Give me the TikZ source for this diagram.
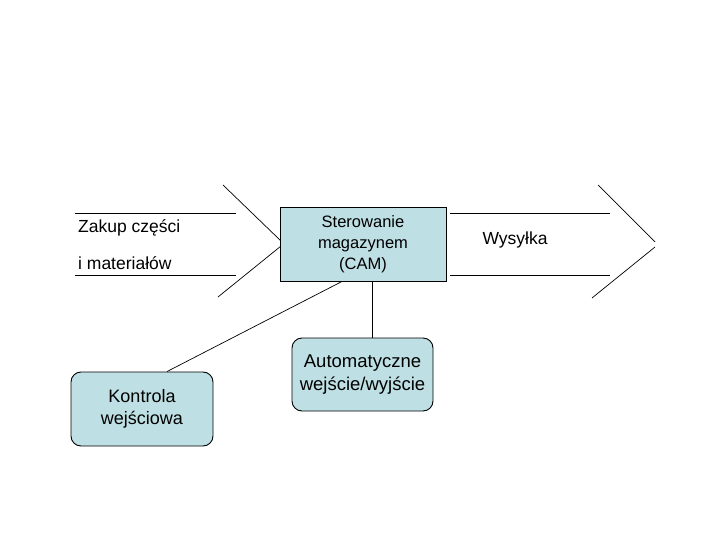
\documentclass[tikz,border=0pt]{standalone}
\usepackage{fontspec}
\setmainfont{Liberation Sans}
\definecolor{boxfill}{HTML}{BEDFE3}
\tikzset{
  procbox/.style={draw=black, line width=0.9pt, fill=boxfill, align=center, inner sep=0pt, font=\fontsize{16.5}{21}\selectfont},
  roundbox/.style={procbox, rounded corners=10pt, font=\fontsize{18}{22}\selectfont},
  lbl/.style={inner sep=0pt, font=\fontsize{17.5}{21}\selectfont},
  thin line/.style={draw=black, line width=0.7pt}
}
\begin{document}
\begin{tikzpicture}[x=1pt,y=-1pt]
\fill[white] (0,0) rectangle (720,540);
\useasboundingbox (0,0) rectangle (720,540);
% left arrow
\draw[thin line] (75,213) -- (236,213);
\draw[thin line] (75,275) -- (236,275);
\draw[thin line] (223,185) -- (281,241);
\draw[thin line] (281,246) -- (218,297);
% right arrow
\draw[thin line] (450,213) -- (610,213);
\draw[thin line] (450,275) -- (610,275);
\draw[thin line] (598,185) -- (655,242);
\draw[thin line] (655,247) -- (592,298);
% boxes
\node[procbox, minimum width=166pt, minimum height=74pt] (cam) at (363,244) {Sterowanie\\magazynem\\(CAM)};
\node[roundbox, minimum width=141pt, minimum height=73pt, font=\fontsize{18.5}{23}\selectfont] (auto) at (362.5,374.5) {Automatyczne\\wejście/wyjście};
\node[roundbox, minimum width=142pt, minimum height=74pt] (kon) at (142,409) {Kontrola\\wejściowa};
% labels
\node[lbl, anchor=west] (zakup) at (78,228) {Zakup części};
\node[lbl, anchor=west] (mat) at (78,263) {i materiałów};
\node[lbl] (wys) at (515,240) {Wysyłka};
% connectors
\draw[thin line] ([xshift=9pt]cam.south) -- ([xshift=9pt]cam.south |- auto.north);
\draw[thin line] ([xshift=-21pt]cam.south) -- ([xshift=25pt]kon.north);
\end{tikzpicture}
\end{document}
